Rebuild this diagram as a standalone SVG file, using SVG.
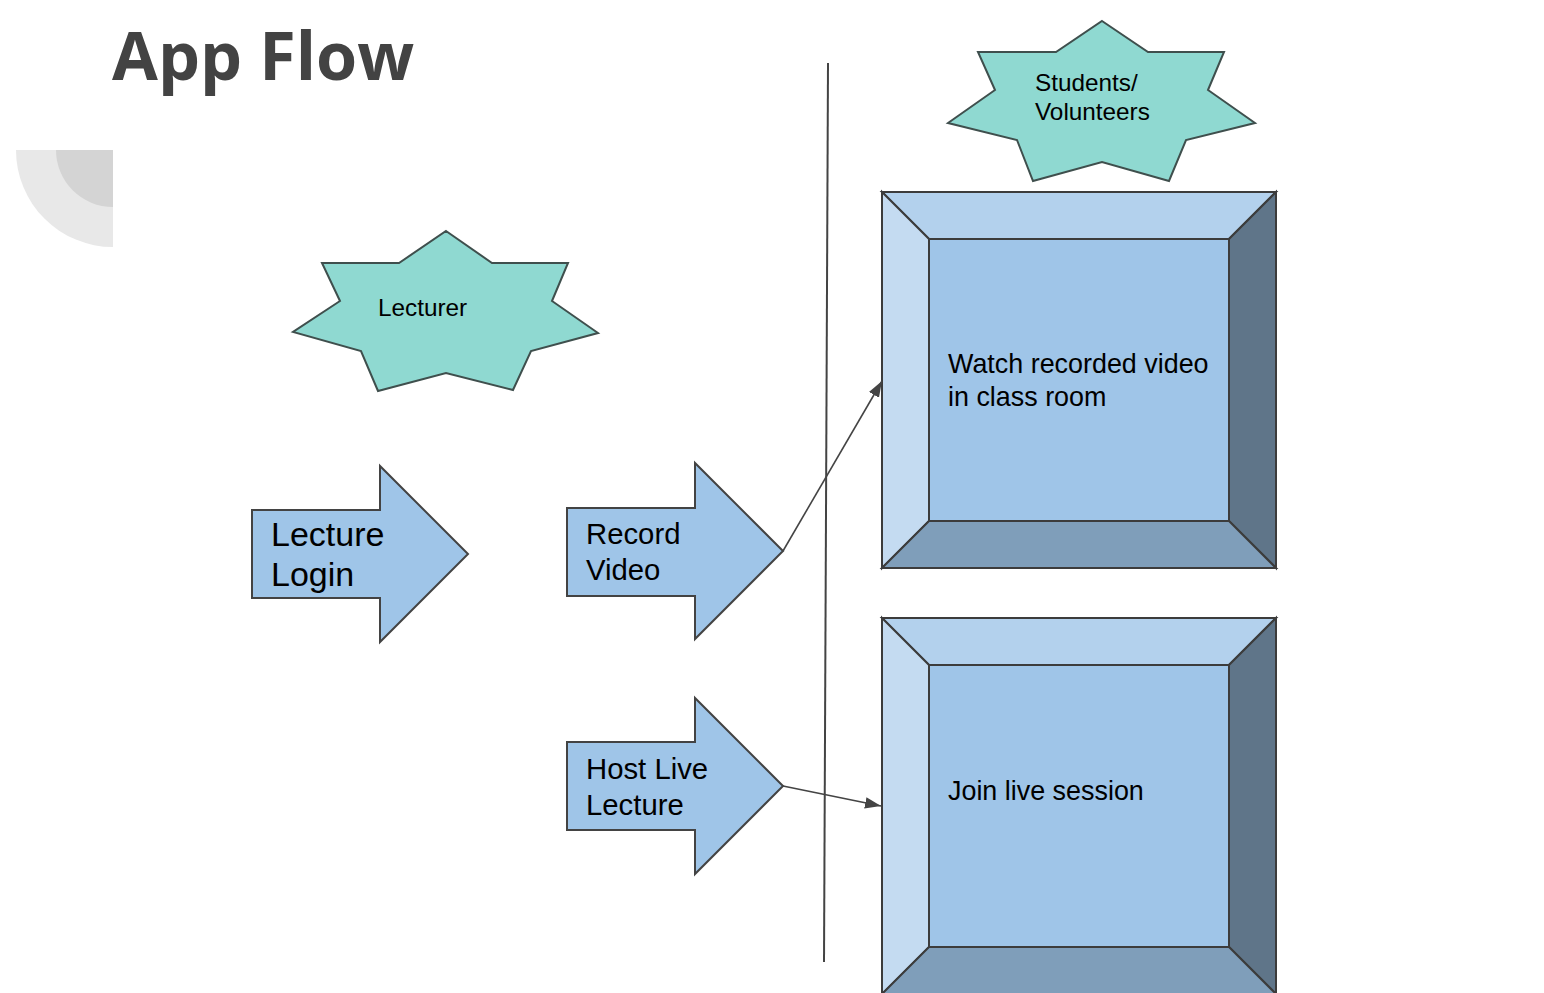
<svg xmlns="http://www.w3.org/2000/svg" width="1544" height="993" viewBox="0 0 1544 993">
<style>
.t{font-family:"Liberation Sans",Arial,sans-serif;fill:#000}
.star{fill:#8fd9d1;stroke:#3f4f4d;stroke-width:2;stroke-linejoin:miter}
.arr{fill:#9fc5e8;stroke:#434343;stroke-width:2}
.bv{stroke:#3c3c3c;stroke-width:2;stroke-linejoin:miter}
.con{stroke:#444;stroke-width:1.6;fill:none}
</style>
<defs>
<marker id="ah" viewBox="0 0 10 10" refX="10" refY="5" markerWidth="10" markerHeight="10" markerUnits="strokeWidth" orient="auto">
<path d="M0,1.4 L10,5 L0,8.6 z" fill="#444"/>
</marker>
</defs>
<rect width="1544" height="993" fill="#fff"/>
<g id="title">
<text x="112" y="80" font-family="'Open Sans',sans-serif" font-weight="700" font-size="66.5" fill="#434343">App Flow</text>
</g>
<g id="decor">
<path d="M113,150 L16,150 A97,97 0 0 0 113,247 Z" fill="#e8e8e8"/>
<path d="M113,150 L56,150 A57,57 0 0 0 113,207 Z" fill="#d4d4d4"/>
</g>
<g id="lecturer">
<polygon class="star" points="446,231 492,263 568,263 552,301 598,333 531,351 513,390 446,373 378,391 361,351 293,332 340,301 322,263 399,263"/>
<text class="t" x="378" y="316" font-size="24.3">Lecturer</text>
</g>
<g id="students">
<polygon class="star" points="1102,21 1148,52 1224,52 1208,90 1255,123 1186,140 1169,181 1102,162 1033,181 1017,140 948,123 995,90 978,52 1056,52"/>
<text class="t" x="1035" y="91" font-size="24.3">Students/</text>
<text class="t" x="1035" y="120" font-size="24.3">Volunteers</text>
</g>
<g id="lecture-login">
<polygon class="arr" points="252,510 380,510 380,466 468,554 380,642 380,598 252,598"/>
<text class="t" x="271" y="546" font-size="34">Lecture</text>
<text class="t" x="271" y="586" font-size="34">Login</text>
</g>
<g id="record-video">
<polygon class="arr" points="567,508 695,508 695,463 783,551 695,639 695,596 567,596"/>
<text class="t" x="586" y="544" font-size="29.3">Record</text>
<text class="t" x="586" y="580" font-size="29.3">Video</text>
</g>
<g id="host-live">
<polygon class="arr" points="567,742 695,742 695,698 783,786 695,874 695,830 567,830"/>
<text class="t" x="586" y="779" font-size="29.3">Host Live</text>
<text class="t" x="586" y="815" font-size="29.3">Lecture</text>
</g>
<g id="divider">
<line x1="828" y1="63" x2="824" y2="962" stroke="#444" stroke-width="2"/>
</g>
<g id="watch">
<polygon class="bv" fill="#b3d1ed" points="882,192 1276,192 1229,239 929,239"/>
<polygon class="bv" fill="#c4dbf1" points="882,192 929,239 929,521 882,568"/>
<polygon class="bv" fill="#5f7589" points="1276,192 1276,568 1229,521 1229,239"/>
<polygon class="bv" fill="#7f9eba" points="882,568 929,521 1229,521 1276,568"/>
<rect class="bv" x="929" y="239" width="300" height="282" fill="#9fc5e8"/>
<text class="t" x="948" y="373" font-size="26.9">Watch recorded video</text>
<text class="t" x="948" y="406" font-size="26.9">in class room</text>
</g>
<g id="join">
<polygon class="bv" fill="#b3d1ed" points="882,618 1276,618 1229,665 929,665"/>
<polygon class="bv" fill="#c4dbf1" points="882,618 929,665 929,947 882,994"/>
<polygon class="bv" fill="#5f7589" points="1276,618 1276,994 1229,947 1229,665"/>
<polygon class="bv" fill="#7f9eba" points="882,994 929,947 1229,947 1276,994"/>
<rect class="bv" x="929" y="665" width="300" height="282" fill="#9fc5e8"/>
<text class="t" x="948" y="800" font-size="26.9">Join live session</text>
</g>
<g id="connectors">
<line class="con" x1="783" y1="551" x2="882" y2="381" marker-end="url(#ah)"/>
<line class="con" x1="783" y1="786" x2="881" y2="806" marker-end="url(#ah)"/>
</g>
</svg>
